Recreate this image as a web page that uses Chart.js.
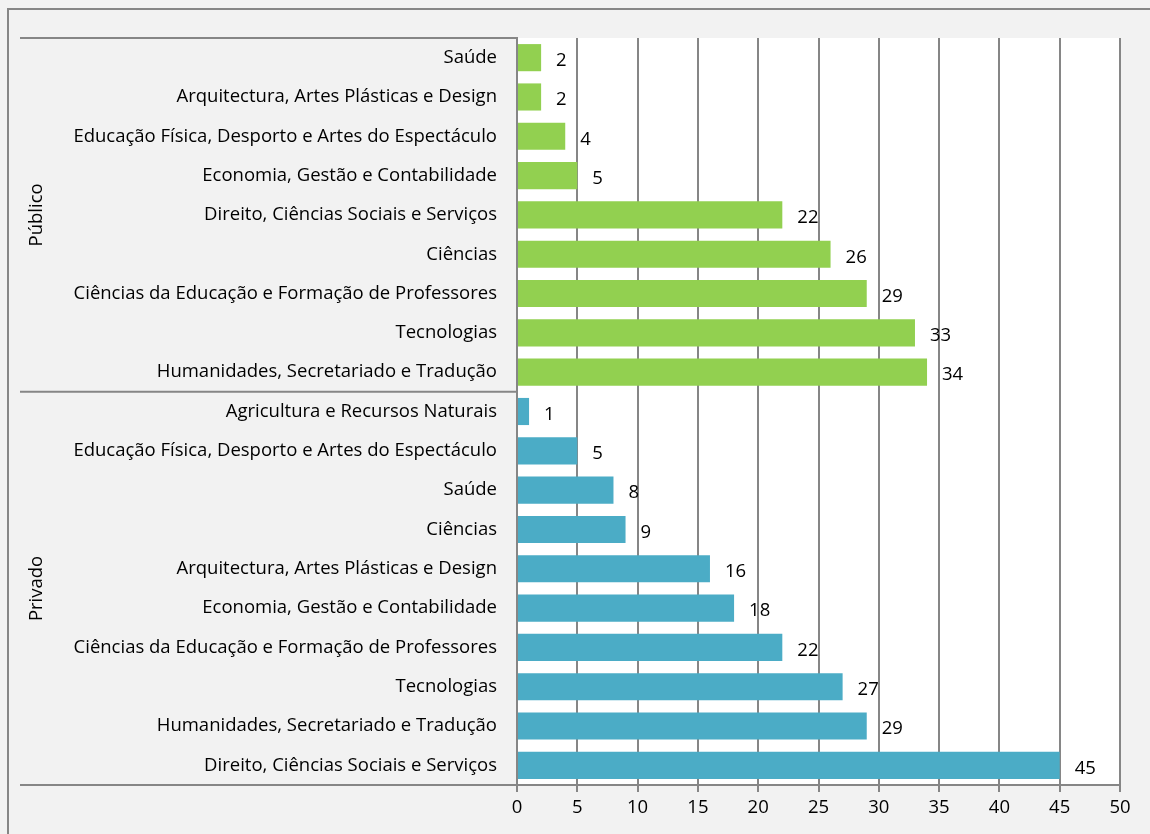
<!DOCTYPE html>
<html lang="pt">
<head>
  <meta charset="UTF-8" />
  <title>Cursos por área - Público e Privado</title>
  <script src="https://cdn.jsdelivr.net/npm/chart.js"></script>
  <style>
    html, body { margin: 0; padding: 0; background: #f2f2f2; }
    #wrap { position: relative; width: 1150px; height: 834px; }
  </style>
</head>
<body>
<div id="wrap"><canvas id="grafico"></canvas></div>

<script>
  // dados (de cima para baixo)
  const catPublico = [
    "Saúde",
    "Arquitectura, Artes Plásticas e Design",
    "Educação Física, Desporto e Artes do Espectáculo",
    "Economia, Gestão e Contabilidade",
    "Direito, Ciências Sociais e Serviços",
    "Ciências",
    "Ciências da Educação e Formação de Professores",
    "Tecnologias",
    "Humanidades, Secretariado e Tradução"
  ];
  const valPublico = [2, 2, 4, 5, 22, 26, 29, 33, 34];

  const catPrivado = [
    "Agricultura e Recursos Naturais",
    "Educação Física, Desporto e Artes do Espectáculo",
    "Saúde",
    "Ciências",
    "Arquitectura, Artes Plásticas e Design",
    "Economia, Gestão e Contabilidade",
    "Ciências da Educação e Formação de Professores",
    "Tecnologias",
    "Humanidades, Secretariado e Tradução",
    "Direito, Ciências Sociais e Serviços"
  ];
  const valPrivado = [1, 5, 8, 9, 16, 18, 22, 27, 29, 45];

  const grupos = ["Público", "Privado"];
  const coresGrupo = ["#92d050", "#4bacc6"];

  const labels = [...catPublico, ...catPrivado];
  const valores = [...valPublico, ...valPrivado];
  const cores = [...catPublico.map(() => coresGrupo[0]), ...catPrivado.map(() => coresGrupo[1])];

  const FONTE = "'Open Sans', sans-serif";
  const TAM = 18.5;
  const CINZA = "#868686";

  // fundo branco da área do gráfico + moldura
  const fundo = {
    id: "fundo",
    beforeDraw(chart) {
      const { ctx, chartArea: a } = chart;
      ctx.save();
      ctx.fillStyle = "#ffffff";
      ctx.fillRect(a.left, a.top, a.right - a.left, a.bottom - a.top);
      ctx.strokeStyle = CINZA;
      ctx.lineWidth = 2;
      ctx.beginPath();
      ctx.moveTo(8, chart.height);
      ctx.lineTo(8, 9);
      ctx.lineTo(chart.width, 9);
      ctx.stroke();
      ctx.restore();
    }
  };

  // linhas de grupo à esquerda + nomes dos grupos rodados
  const gruposPlugin = {
    id: "grupos",
    afterDraw(chart) {
      const { ctx, chartArea: a } = chart;
      const y = chart.scales.y;
      const meio = (y.getPixelForValue(catPublico.length - 1) + y.getPixelForValue(catPublico.length)) / 2;
      ctx.save();
      ctx.strokeStyle = CINZA;
      ctx.lineWidth = 2;
      [a.top, meio, a.bottom].forEach(py => {
        ctx.beginPath();
        ctx.moveTo(20, py);
        ctx.lineTo(a.left, py);
        ctx.stroke();
      });
      ctx.fillStyle = "#000";
      ctx.font = TAM + "px " + FONTE;
      ctx.textAlign = "center";
      ctx.textBaseline = "middle";
      const centros = [(a.top + meio) / 2, (meio + a.bottom) / 2];
      grupos.forEach((g, i) => {
        ctx.save();
        ctx.translate(37, centros[i]);
        ctx.rotate(-Math.PI / 2);
        ctx.fillText(g, 0, 0);
        ctx.restore();
      });
      ctx.restore();
    }
  };

  // rótulos de valor à direita das barras
  const rotulos = {
    id: "rotulos",
    afterDatasetsDraw(chart) {
      const { ctx } = chart;
      const meta = chart.getDatasetMeta(0);
      ctx.save();
      ctx.fillStyle = "#000";
      ctx.font = TAM + "px " + FONTE;
      ctx.textAlign = "left";
      ctx.textBaseline = "middle";
      meta.data.forEach((bar, i) => {
        ctx.fillText(valores[i], bar.x + 15, bar.y + 3);
      });
      ctx.restore();
    }
  };

  new Chart(document.getElementById("grafico"), {
    type: "bar",
    data: {
      labels,
      datasets: [{
        data: valores,
        backgroundColor: cores,
        categoryPercentage: 1,
        barPercentage: 0.69
      }]
    },
    options: {
      indexAxis: "y",
      responsive: true,
      maintainAspectRatio: false,
      animation: false,
      layout: { padding: { top: 38, right: 30, left: 20, bottom: 0 } },
      plugins: {
        legend: { display: false },
        tooltip: { enabled: false }
      },
      scales: {
        x: {
          min: 0,
          max: 50,
          ticks: { stepSize: 5, color: "#000", font: { family: FONTE, size: TAM }, padding: 5 },
          grid: { color: CINZA, lineWidth: 2, tickLength: 7, drawTicks: true },
          border: { color: CINZA, width: 2 },
          afterFit(s) { s.height = 49; }
        },
        y: {
          ticks: { color: "#000", font: { family: FONTE, size: TAM }, padding: 20, autoSkip: false },
          grid: { display: false, drawTicks: false },
          border: { color: CINZA, width: 2 },
          afterFit(s) { s.width = 497; }
        }
      }
    },
    plugins: [fundo, gruposPlugin, rotulos]
  });
</script>
</body>
</html>
